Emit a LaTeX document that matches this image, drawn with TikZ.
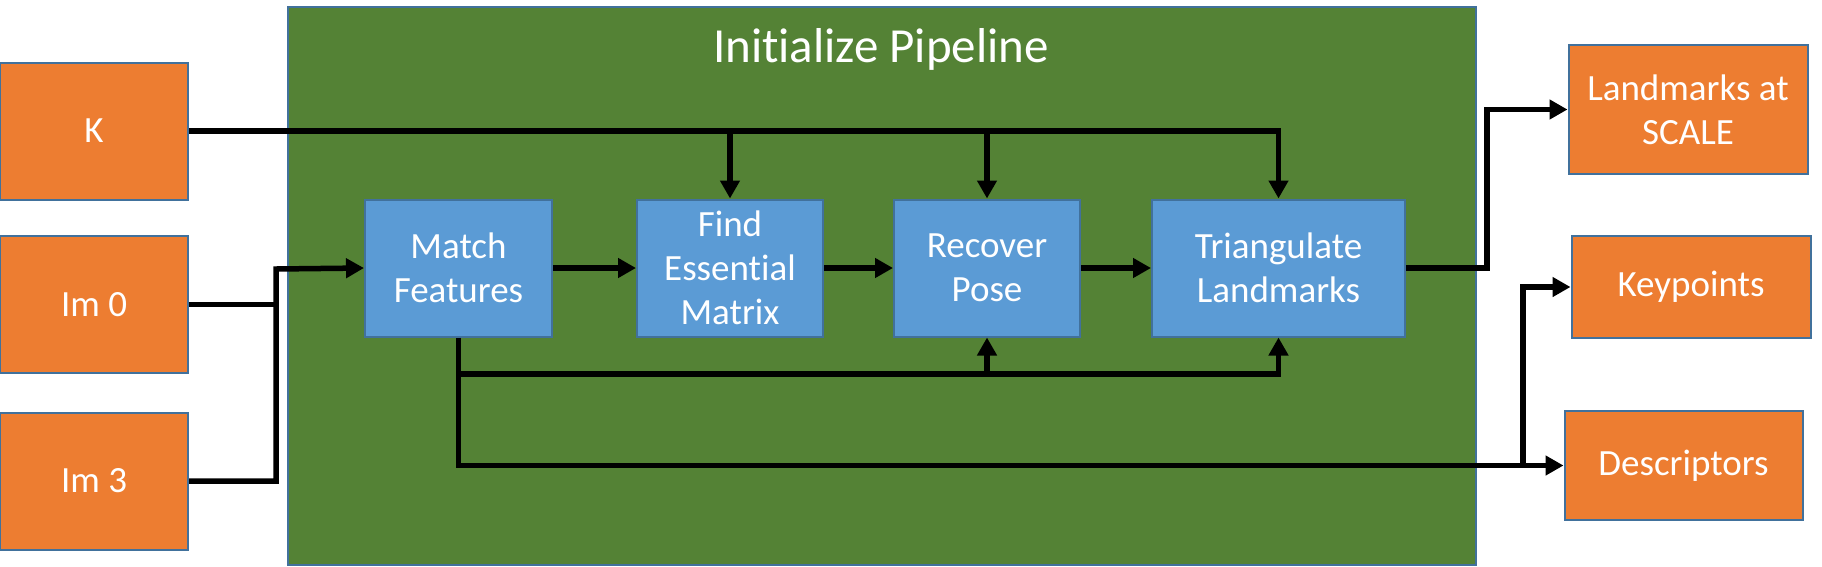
\documentclass[tikz,border=0pt]{standalone}
\usepackage{fontspec}
\setmainfont{Carlito}[Ligatures={NoCommon}]
\usetikzlibrary{arrows.meta}
\definecolor{orng}{HTML}{ED7D31}
\definecolor{blu}{HTML}{5B9BD5}
\definecolor{grn}{HTML}{548235}
\definecolor{brd}{HTML}{41719C}
\tikzset{
  base/.style={draw=brd, line width=2pt, text=white, align=center, inner sep=0pt,
    font=\fontsize{37}{44}\selectfont},
  iobox/.style={base, fill=orng},
  procbox/.style={base, fill=blu, minimum height=137pt},
  conn/.style={line width=5.5pt, draw=black},
  arr/.style={conn, -{Triangle[length=18pt,width=19pt]}},
}
\begin{document}
\begin{tikzpicture}[x=1pt,y=-1pt]
\useasboundingbox (0,0) rectangle (1822,566);
% container
\node[draw=brd, line width=2pt, fill=grn, minimum width=1187.5pt, minimum height=558pt, inner sep=0pt] (pipe) at (881.75,286) {};
\node[text=white, font=\fontsize{49}{58}\selectfont] (title) at (881,49) {Ini\kern0pt ti\kern0pt alize Pipeline};
% inputs
\node[iobox, minimum width=188pt, minimum height=137pt] (K) at (94,131) {K};
\node[iobox, minimum width=188pt, minimum height=137pt] (im0) at (94,304.5) {Im 0};
\node[iobox, minimum width=188pt, minimum height=137pt] (im3) at (94,481) {Im 3};
% processes
\node[procbox, minimum width=187pt] (match) at (458.5,268) {Match\\Features};
\node[procbox, minimum width=186pt] (find) at (730,268) {Find\\Essent\kern0pt ial\\Matrix};
\node[procbox, minimum width=186pt] (recover) at (987,268) {Recover\\Pose};
\node[procbox, minimum width=253pt] (tri) at (1278.5,268) {Triangulate\\Landmarks};
% outputs
\node[iobox, minimum width=239pt, minimum height=129pt] (land) at (1688,109.5) {Landmarks at\\SCALE};
\node[iobox, minimum width=239pt, minimum height=102pt] (kp) at (1691,287) {Keypoints};
\node[iobox, minimum width=238pt, minimum height=109pt] (desc) at (1683.5,465.5) {Descriptors};
% helper coordinates
\coordinate (jx) at (276,269);
\coordinate (b1) at (458.5,374);
\coordinate (kb) at (1523,466);
\coordinate (tout) at (1487,268);
% K distribution
\draw[arr] (K.east) -| (tri.north);
\draw[arr] (find.north |- K.east) -- (find.north);
\draw[arr] (recover.north |- K.east) -- (recover.north);
% images to match
\draw[conn] (im0.east) -- (jx |- im0.east);
\draw[arr] (im3.east) -| (jx) -- (match.west);
% chain
\draw[arr] (match.east) -- (find.west);
\draw[arr] (find.east) -- (recover.west);
\draw[arr] (recover.east) -- (tri.west);
% match features outputs
\draw[arr] (match.south) |- (desc.west);
\draw[arr] (b1) -| (tri.south);
\draw[arr] (recover.south |- b1) -- (recover.south);
\draw[arr] (kb) |- (kp.west);
% triangulate output
\draw[arr] (tri.east) -- (tout) |- (land.west);
\end{tikzpicture}
\end{document}
